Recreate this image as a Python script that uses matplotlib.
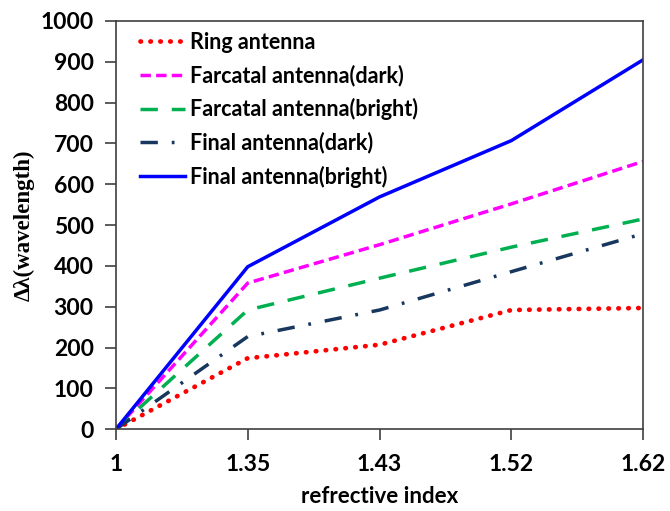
import matplotlib.pyplot as plt

# data
x_labels = ["1", "1.35", "1.43", "1.52", "1.62"]
ring = [0, 174, 207, 292, 297]
farcatal_dark = [0, 358, 452, 552, 656]
farcatal_bright = [0, 292, 370, 446, 515]
final_dark = [0, 227, 292, 386, 479]
final_bright = [0, 398, 569, 707, 905]

plt.rcParams['font.family'] = ['Lato', 'DejaVu Sans']

fig = plt.figure(figsize=(6.7, 5.11), dpi=100)
ax = fig.add_axes([0.173, 0.160, 0.787, 0.799])

xs = list(range(len(x_labels)))
ax.plot(xs, ring, color="#FF0000", lw=3.4, linestyle=(0, (0.1, 2.0)),
        dash_capstyle="round", label="Ring antenna")
ax.plot(xs, farcatal_dark, color="#FF00FF", lw=2.5, linestyle=(0, (3, 1.5)),
        label="Farcatal antenna(dark)")
ax.plot(xs, farcatal_bright, color="#00B050", lw=2.5, linestyle=(0, (5, 4)),
        label="Farcatal antenna(bright)")
ax.plot(xs, final_dark, color="#17375E", lw=2.5, linestyle=(0, (5, 4, 0.8, 4)),
        label="Final antenna(dark)")
ax.plot(xs, final_bright, color="#0000FF", lw=2.5, linestyle="-",
        label="Final antenna(bright)")

ax.set_xlim(0, 4)
ax.set_ylim(0, 1000)
ax.set_xticks(xs)
ax.set_xticklabels(x_labels)
ax.set_yticks(range(0, 1001, 100))

for s in ax.spines.values():
    s.set_color("#404040")
    s.set_linewidth(1.2)
ax.tick_params(axis="both", direction="out", length=8, width=1.2,
               color="#404040", labelsize=16.5)
ax.tick_params(axis="x", pad=10)
ax.tick_params(axis="y", pad=8)
for lbl in ax.get_xticklabels() + ax.get_yticklabels():
    lbl.set_fontweight("bold")

ax.set_xlabel("refrective index", fontsize=16, fontweight="bold", labelpad=8)
ax.set_ylabel("\u0394\u03bb(wavelength)", fontsize=16.5, fontweight="bold",
              family="Liberation Serif", labelpad=4)

leg = ax.legend(loc="upper left", bbox_to_anchor=(0.025, 1.0), frameon=False,
                handlelength=2.1, handletextpad=0.25, labelspacing=0.55,
                borderaxespad=0.1, prop={"size": 15.5, "weight": "bold"})

fig.savefig("out.png", dpi=100)
